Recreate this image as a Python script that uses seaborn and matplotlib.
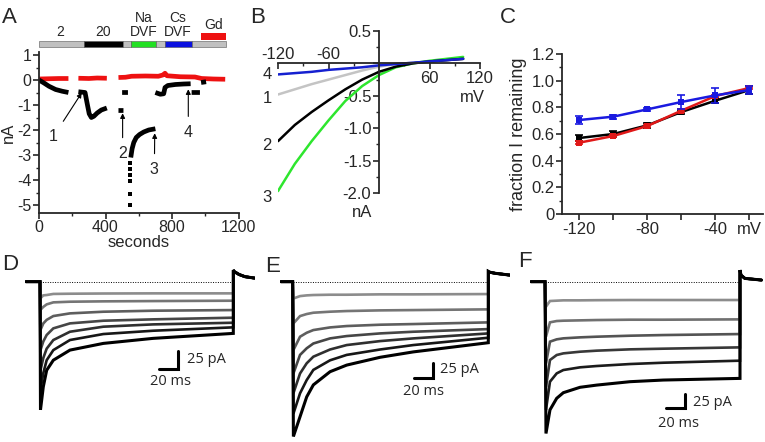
import numpy as np
import pandas as pd
import matplotlib
matplotlib.use('Agg')
import matplotlib.pyplot as plt
import seaborn as sns
from matplotlib.ticker import MultipleLocator

sns.set_style('ticks')
plt.rcParams['font.family'] = ['Liberation Sans', 'DejaVu Sans']
plt.rcParams['axes.unicode_minus'] = False

nan = np.nan

# ---------------- A: current over time (s, nA), NaN = gap ----------------
a_black_t = [0, 30, 60, 100, 140, 177, nan, 237, 277, 290, 302, 315, 330, 350, 375, 408, nan,
             478, 508, nan, 500, 535, nan, 552, 560, 570, 585, 605, 630, 660, 700, nan,
             700, 730, 750, 758, 775, 820, 870, 912, nan, 918, 968, nan, 975, 1005]
a_black_v = [0, -0.12, -0.25, -0.38, -0.45, -0.5, nan, -0.47, -0.5, -0.95, -1.35, -1.5, -1.45, -1.32, -1.2, -1.12, nan,
             -1.22, -1.22, nan, -0.5, -0.5, nan, -3.1, -2.75, -2.5, -2.3, -2.18, -2.08, -2.0, -1.95, nan,
             -0.5, -0.57, -0.55, -0.3, -0.22, -0.18, -0.16, -0.15, nan, -0.5, -0.5, nan, -0.1, -0.07]
a_dot_t = [548, 548, 549, 549, 550, 550]
a_dot_v = [-3.3, -3.55, -3.8, -4.05, -4.55, -5.0]
a_red_t = [0, 60, 120, 177, nan, 237, 300, 350, 408, nan,
           478, 520, 557, 640, 718, 745, 758, 770, 850, 938, 978, 1050, 1120]
a_red_v = [0.04, 0.05, 0.06, 0.06, nan, 0.07, 0.06, 0.08, 0.07, nan,
           0.1, 0.11, 0.15, 0.16, 0.15, 0.2, 0.27, 0.17, 0.13, 0.12, 0.06, 0.04, 0.03]
# solution bar
bar_start = [0, 272, 507, 553, 702, 758, 918]
bar_end = [272, 507, 553, 702, 758, 918, 1125]
bar_color = ['#c0c0c0', 'black', '#c0c0c0', '#22e022', '#c0c0c0', '#0a10e0', '#c0c0c0']
gd_start, gd_end = 975, 1125
bar_labels = ['2', '20', 'Na\nDVF', 'Cs\nDVF', 'Gd']
bar_label_t = [126, 387, 628, 834, 1048]
# numbered arrows: label, text position, tip
arrow_lab = ['1', '2', '3', '4']
arrow_txt = [(86, -2.27), (503, -2.96), (694, -3.6), (898, -2.11)]
arrow_tip = [(257, -0.51), (503, -1.33), (696, -2.13), (898, -0.37)]

# ---------------- B: I-V curves ----------------
b_mv = [-120, -100, -80, -60, -40, -20, 0, 20, 40, 60, 80, 100]
b_iv = {
    '1': [-0.48, -0.40, -0.32, -0.25, -0.18, -0.11, -0.05, -0.01, 0.01, 0.03, 0.05, 0.07],
    '2': [-1.20, -0.95, -0.75, -0.57, -0.40, -0.25, -0.13, -0.05, 0.00, 0.03, 0.05, 0.07],
    '3': [-1.97, -1.55, -1.20, -0.88, -0.58, -0.35, -0.18, -0.06, 0.00, 0.04, 0.07, 0.10],
    '4': [-0.17, -0.15, -0.13, -0.10, -0.08, -0.06, -0.03, -0.01, 0.01, 0.03, 0.05, 0.07],
}
b_colors = {'1': '#c4c4c4', '2': 'black', '3': '#2ee62e', '4': '#1520d0'}
b_label_v = {'4': -0.165, '1': -0.535, '2': -1.27, '3': -2.07}

# ---------------- C: fraction of current remaining ----------------
c_mv = [-120, -100, -80, -60, -40, -20]
c_black = [0.57, 0.60, 0.665, 0.765, 0.85, 0.93]
c_black_err = [0.02, 0.02, 0.02, 0.015, 0.02, 0.03]
c_red = [0.535, 0.585, 0.66, 0.775, 0.885, 0.945]
c_red_err = [0.01, 0.01, 0.01, 0.01, 0.01, 0.01]
c_blue = [0.705, 0.73, 0.785, 0.84, 0.89, 0.93]
c_blue_err = [0.03, 0.015, 0.01, 0.05, 0.055, 0.03]

# ---------------- D-F: current sweeps (ms, pA) ----------------
step_on, step_off = 0, 200
d_t = [0.5, 3.4, 6.9, 13.8, 31, 65.5, 117, 200]
d_traces = [
    [-23, -19, -18.5, -17, -16.7, -16.4, -16.2, -16.2],
    [-39, -35, -31.5, -28.7, -27.8, -27.3, -26.9, -26.4],
    [-67, -58, -53, -47.7, -44, -41.7, -40.3, -39.4],
    [-95, -83, -74, -64.8, -57.9, -54.2, -52.3, -50],
    [-123, -106, -93, -81, -69.5, -62.5, -59.3, -57],
    [-150, -127, -109, -95, -81, -72.7, -68.1, -63.4],
    [-178, -146, -123, -109, -95, -85.7, -78.7, -71.8],
]
d_tail_t = [200, 201, 206, 212, 222]
d_tail_v = [16, 14, 10, 7, 5]

e_t = [0.7, 7.5, 14.3, 21.1, 38.2, 55.2, 89.3, 123.3, 200]
e_traces = [
    [-28, -24, -22.8, -22.2, -21.7, -21.7, -21.1, -21.1, -20.6],
    [-69.5, -57.3, -53.9, -51.7, -50, -48.9, -47.8, -47.3, -46.1],
    [-114, -91.7, -85.1, -80.6, -76.2, -73.9, -71.7, -70.6, -67.8],
    [-153, -122, -111, -103, -94.5, -90.6, -86.2, -83.4, -79],
    [-186, -153, -136, -125, -113, -105.6, -99, -94.5, -86.2],
    [-220, -186, -164, -147, -131, -122, -113, -105.6, -93.4],
    [-258, -225, -192, -172, -150, -139, -126, -117, -101.7],
]
e_tail_t = [200, 201, 207, 222]
e_tail_v = [17, 16, 14, 11]

f_t = [1.0, 5.1, 12, 18.8, 35.9, 53, 87.2, 121.4, 200]
f_traces = [
    [-45.5, -35.1, -34.5, -33.9, -33.9, -33.6, -33.3, -33.3, -33.3],
    [-100, -73.9, -71.5, -70.9, -70.3, -69.7, -69.1, -69.1, -68.5],
    [-148.5, -109, -104.8, -103, -101.2, -100, -98.2, -97, -95.2],
    [-191, -142.4, -133.3, -130.3, -127.3, -125.4, -123, -121.8, -119.4],
    [-233, -181.8, -166.7, -160.6, -155.7, -153.3, -149.7, -147.3, -143.6],
    [-276, -233, -212, -201.8, -192, -188, -181.8, -178.8, -175.8],
]
f_tail_t = [200, 201, 205, 222]
f_tail_v = [21, 12, 6, 3]

scale_ms, scale_pa = 20, 25

# ---------------- figure ----------------
W, H = 765, 442
fig = plt.figure(figsize=(W / 100, H / 100), dpi=100)


def px_axes(x0, y0, x1, y1):
    return fig.add_axes([x0 / W, 1 - y1 / H, (x1 - x0) / W, (y1 - y0) / H])


def style_axes(ax, size):
    for s in ['top', 'right']:
        ax.spines[s].set_visible(False)
    for s in ['left', 'bottom']:
        ax.spines[s].set_linewidth(1.3)
    ax.tick_params(which='major', direction='out', length=4, width=1.2, labelsize=size, pad=1.5)
    ax.tick_params(which='minor', direction='out', length=2.5, width=1)


# ----- A -----
axA = px_axes(39, 52.5, 238.5, 212.5)
style_axes(axA, 11.5)
axA.plot(a_red_t, a_red_v, color='#ee1111', lw=3.4, solid_capstyle='butt')
axA.plot(a_black_t, a_black_v, color='black', lw=3.4, solid_capstyle='butt')
axA.scatter(a_dot_t, a_dot_v, marker='s', s=8, color='black', lw=0)
axA.set_xlim(0, 1200)
axA.set_ylim(-5.3, 1.1)
axA.set_xticks([0, 400, 800, 1200])
axA.xaxis.set_minor_locator(MultipleLocator(200))
axA.set_yticks([1, 0, -1, -2, -3, -4, -5])
axA.yaxis.set_minor_locator(MultipleLocator(0.5))
axA.set_xlabel('seconds', fontsize=12, labelpad=0)
axA.set_ylabel('nA', fontsize=12, labelpad=1)
for s, e, c in zip(bar_start, bar_end, bar_color):
    axA.barh(1.435, e - s, left=s, height=0.25, color=c, edgecolor='#555555', lw=0.4, clip_on=False)
axA.barh(1.735, gd_end - gd_start, left=gd_start, height=0.27, color='#ee1111', lw=0, clip_on=False)
for lab, t in zip(bar_labels, bar_label_t):
    axA.text(t, 1.92 if '\n' not in lab and lab != 'Gd' else 2.2, lab, ha='center', va='center',
             fontsize=10, linespacing=0.95)
for lab, xt, tip in zip(arrow_lab, arrow_txt, arrow_tip):
    axA.annotate(lab, xy=tip, xytext=xt, ha='center', va='center', fontsize=11.5,
                 arrowprops=dict(arrowstyle='-|>', color='black', lw=0.8, mutation_scale=7, shrinkA=4, shrinkB=0))

# ----- B -----
axB = px_axes(278, 31, 480, 193)
df_b = pd.DataFrame([(k, v, i) for k, vals in b_iv.items() for v, i in zip(b_mv, vals)],
                    columns=['trace', 'mV', 'nA'])
sns.lineplot(data=df_b, x='mV', y='nA', hue='trace', palette=b_colors,
             hue_order=['1', '3', '2', '4'], legend=False, lw=1.8, ax=axB)
axB.set_xlim(-120, 120)
axB.set_ylim(-2.0, 0.5)
style_axes(axB, 12)
axB.spines['left'].set_position(('data', 0))
axB.spines['bottom'].set_position(('data', 0))
axB.set_xlabel('')
axB.set_ylabel('')
b_xticks = [-120, -60, 60, 120]
axB.set_xticks(b_xticks)
axB.set_xticklabels([])
axB.xaxis.set_minor_locator(MultipleLocator(30))
axB.set_yticks([0.5, 0, -0.5, -1.0, -1.5, -2.0])
axB.set_yticklabels(['0.5', '', '-0.5', '-1.0', '-1.5', '-2.0'])
axB.yaxis.set_minor_locator(MultipleLocator(0.25))
for v in b_xticks:
    axB.text(v, 0.14 if v < 0 else -0.23, str(v), ha='center', va='center', fontsize=12)
axB.text(111, -0.52, 'mV', ha='center', va='center', fontsize=12)
axB.text(-20, -2.18, 'nA', ha='center', va='top', fontsize=12)
for k, v in b_label_v.items():
    axB.text(-133, v, k, ha='center', va='center', fontsize=12)

# ----- C -----
axC = px_axes(562.3, 54, 763, 214)
style_axes(axC, 12)
for vals, err, col in [(c_black, c_black_err, 'black'), (c_red, c_red_err, '#e01818'),
                       (c_blue, c_blue_err, '#1a1ae0')]:
    axC.errorbar(c_mv, vals, yerr=err, fmt='none', ecolor=col, elinewidth=1.2, capsize=3, capthick=1.2)
    sns.lineplot(x=c_mv, y=vals, color=col, lw=1.8, marker='s', markersize=4.5,
                 markeredgewidth=0, ax=axC)
axC.set_xlim(-130, -12)
axC.set_ylim(0, 1.2)
axC.set_xticks([-120, -100, -80, -60, -40, -20])
axC.set_xticklabels(['-120', '', '-80', '', '-40', 'mV'])
axC.set_yticks([0, 0.2, 0.4, 0.6, 0.8, 1.0, 1.2])
axC.set_yticklabels(['0', '0.2', '0.4', '0.6', '0.8', '1.0', '1.2'])
axC.yaxis.set_minor_locator(MultipleLocator(0.1))
axC.set_ylabel('fraction I remaining', fontsize=13, labelpad=3)


# ----- D-F -----
def draw_sweeps(box, t0_px, t1_px, pa_px, t, traces, tail_t, tail_v, pa_text, ms_text, corner):
    x0, y0, x1, y1 = box
    ax = px_axes(x0, y0, x1, y1)
    s = (t1_px - t0_px) / (step_off - step_on)
    base = 281.7
    ax.set_xlim((x0 - t0_px) / s, step_off + (x1 - t1_px) / s)
    ax.set_ylim(-(y1 - base) / pa_px, (base - y0) / pa_px)
    ax.axis('off')
    grays = np.linspace(0.55, 0, len(traces))
    pre_t = ax.get_xlim()[0] + 1
    for tr, g in zip(traces, grays):
        x = [pre_t, step_on] + list(t) + list(tail_t)
        y = [0, 0] + list(tr) + list(tail_v)
        ax.plot(x, y, color=str(g), lw=1.9 if g > 0 else 2.2, solid_joinstyle='miter')
    ax.hlines(0, step_on, step_off, colors='black', linestyles=(0, (1, 1.5)), lw=0.7)
    cx, cy = corner
    ax.plot([cx - scale_ms, cx, cx], [cy, cy, cy + scale_pa], color='black', lw=2.2,
            solid_joinstyle='miter')
    ax.text(pa_text[0], pa_text[1], '25 pA', ha='left', va='center', fontsize=10.5, family='Open Sans')
    ax.text(ms_text[0], ms_text[1], '20 ms', ha='center', va='center', fontsize=10.5, family='Open Sans')


draw_sweeps((25, 262, 255, 425), 40, 233.3, 0.72, d_t, d_traces, d_tail_t, d_tail_v,
            (152, -108), (135.5, -139), (143, -121))
draw_sweeps((280, 262, 510, 442), 292.7, 488.3, 0.6, e_t, e_traces, e_tail_t, e_tail_v,
            (150.6, -147), (134, -183), (143.8, -161))
draw_sweeps((530, 262, 765, 442), 545, 740, 0.55, f_t, f_traces, f_tail_t, f_tail_v,
            (151.8, -220.5), (137.4, -257), (143.6, -230))

# panel letters
for lab, x, y in [('A', 2, 23), ('B', 250, 23), ('C', 500, 23), ('D', 2, 270), ('E', 265, 272), ('F', 518, 267)]:
    fig.text(x / W, 1 - y / H, lab, fontsize=16, va='baseline', ha='left')

fig.savefig('out.png', dpi=100)
